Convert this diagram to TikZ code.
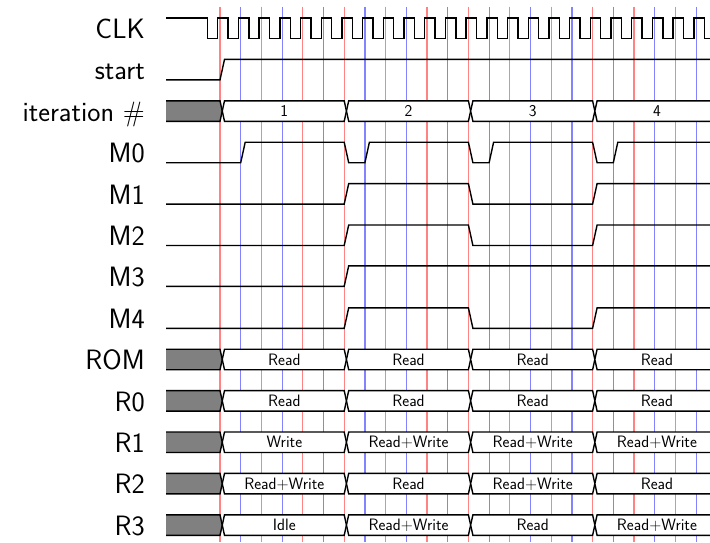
\documentclass[tikz,border=0pt]{standalone}
\usepackage{fontspec}
\definecolor{gred}{RGB}{255,100,100}
\definecolor{gblue}{RGB}{100,100,255}
\tikzset{
  sig/.style={line width=1.4pt, line join=miter, black},
  gridred/.style={line width=1.2pt, gred, opacity=0.8},
  gridblue/.style={line width=1.2pt, gblue, opacity=0.8},
  lbl/.style={anchor=base east, inner sep=0pt, font=\fontsize{28}{30}\selectfont\sffamily},
  bustxt/.style={anchor=base, inner sep=0pt, font=\fontsize{16.5}{18}\selectfont\sffamily},
  busgray/.style={fill=black!50},
}
\newcommand\busrow[6]{%
  \pgfmathsetmacro\bL{38.5+41.4*#1}%
  \pgfmathsetmacro\bH{\bL-20.5}%
  \pgfmathsetmacro\bM{\bL-10.25}%
  \fill[busgray] (166,\bH) -- (220,\bH) -- (222.25,\bM) -- (220,\bL) -- (166,\bL) -- cycle;
  \draw[sig] (166,\bH) -- (220,\bH) -- (222.25,\bM) -- (220,\bL) -- (166,\bL);
  \foreach \btxt [count=\j from 0] in {#3,#4,#5,#6} {
    \pgfmathsetmacro\ba{220+124.2*\j}
    \pgfmathsetmacro\bb{\ba+124.2}
    \filldraw[sig, fill=white] ({\ba+2.25},\bM) -- ({\ba+4.5},\bH) -- (\bb,\bH) -- ({\bb+2.25},\bM) -- (\bb,\bL) -- ({\ba+4.5},\bL) -- cycle;
    \node[bustxt] (#2\j) at ({(\ba+\bb)/2+2.25},{\bL-4.6}) {\btxt};
  }
}
\begin{document}
\begin{tikzpicture}[x=1pt,y=-1pt]
\useasboundingbox (0,0) rectangle (710,542);
% labels
\foreach \nm/\txt [count=\i from 0] in {clk/CLK, start/start, iter/iteration \#, m0/M0, m1/M1, m2/M2, m3/M3, m4/M4, rom/ROM, r0/R0, r1/R1, r2/R2, r3/R3}
  \node[lbl] (l\nm) at (145,{38.5+41.4*\i}) {\txt};
\begin{scope}
\clip (0,0) rectangle (710,542);
% grid
\foreach \k in {0,1,...,23} {
  \pgfmathtruncatemacro\odd{mod(\k,2)}
  \ifnum\odd=0
    \draw[gridred] ({220+20.7*\k},6.7) -- ({220+20.7*\k},542);
  \else
    \draw[gridblue] ({220+20.7*\k},6.7) -- ({220+20.7*\k},542);
  \fi
}
% CLK
\draw[sig] (166,18) -- (207.4,18)
  foreach \k in {0,...,24} { -- ++(0,20.5) -- ++(10.35,0) -- ++(0,-20.5) -- ++(10.35,0) };
% start (row 1)
\draw[sig] (166,79.9) -- (220,79.9) -- (224.5,59.4) -- (720,59.4);
% M0 (row 3)
\draw[sig] (166,162.7) -- (240.7,162.7) -- (245.2,142.2) -- (344.2,142.2) -- (348.7,162.7)
  -- (364.9,162.7) -- (369.4,142.2) -- (468.4,142.2) -- (472.9,162.7)
  -- (489.1,162.7) -- (493.6,142.2) -- (592.6,142.2) -- (597.1,162.7)
  -- (613.3,162.7) -- (617.8,142.2) -- (720,142.2);
% M1, M2, M4
\foreach \r in {4,5,7} {
  \pgfmathsetmacro\sL{38.5+41.4*\r}
  \pgfmathsetmacro\sH{\sL-20.5}
  \draw[sig] (166,\sL) -- (344.2,\sL) -- (348.7,\sH) -- (468.4,\sH) -- (472.9,\sL)
    -- (592.6,\sL) -- (597.1,\sH) -- (720,\sH);
}
% M3
\draw[sig] (166,286.3) -- (344.2,286.3) -- (348.7,265.8) -- (720,265.8);
% buses
\busrow{2}{it}{1}{2}{3}{4}
\busrow{8}{rom}{Read}{Read}{Read}{Read}
\busrow{9}{rz}{Read}{Read}{Read}{Read}
\busrow{10}{ra}{Write}{Read+Write}{Read+Write}{Read+Write}
\busrow{11}{rb}{Read+Write}{Read}{Read+Write}{Read}
\busrow{12}{rc}{Idle}{Read+Write}{Read}{Read+Write}
\end{scope}
\end{tikzpicture}
\end{document}
